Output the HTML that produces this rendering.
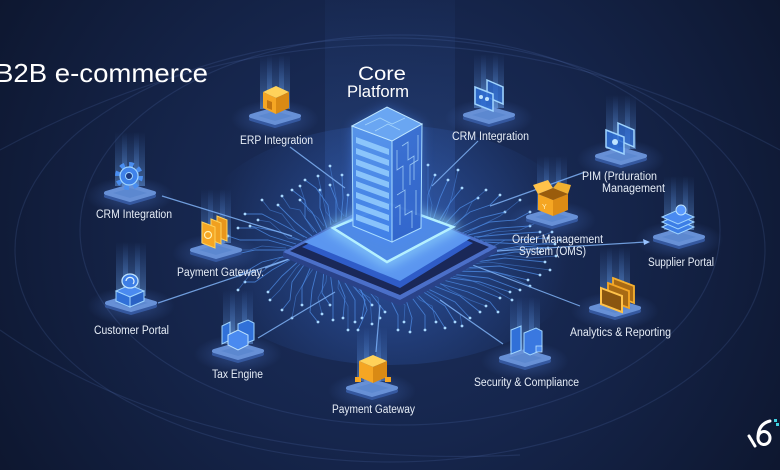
<!DOCTYPE html>
<html><head><meta charset="utf-8">
<style>
html,body{margin:0;padding:0;background:#101b36;overflow:hidden;width:780px;height:470px;}
svg{display:block;overflow:hidden}
text{font-family:"Liberation Sans",sans-serif;}
</style></head>
<body>
<svg width="780" height="470" viewBox="0 0 780 470" xmlns="http://www.w3.org/2000/svg">
<defs>
 <radialGradient id="bg" cx="390" cy="230" r="470" gradientUnits="userSpaceOnUse">
  <stop offset="0" stop-color="#1c305f"/>
  <stop offset="0.45" stop-color="#16264d"/>
  <stop offset="1" stop-color="#0d162e"/>
 </radialGradient>
 <linearGradient id="beam" x1="0" y1="0" x2="0" y2="1">
  <stop offset="0" stop-color="#5a9cff" stop-opacity="0"/>
  <stop offset="1" stop-color="#7ab6ff" stop-opacity="0.42"/>
 </linearGradient>
 <radialGradient id="tglow">
  <stop offset="0" stop-color="#5f95ff" stop-opacity="0.32"/>
  <stop offset="1" stop-color="#5f95ff" stop-opacity="0"/>
 </radialGradient>
 <linearGradient id="col" x1="0" y1="0" x2="0" y2="1">
  <stop offset="0" stop-color="#4a80e0" stop-opacity="0.04"/>
  <stop offset="1" stop-color="#4a80e0" stop-opacity="0.22"/>
 </linearGradient>
 <radialGradient id="chipglow" cx="390" cy="245" r="180" gradientUnits="userSpaceOnUse">
  <stop offset="0" stop-color="#3f7cf0" stop-opacity="0.45"/>
  <stop offset="1" stop-color="#3f7cf0" stop-opacity="0"/>
 </radialGradient>
 <linearGradient id="lf" x1="0" y1="0" x2="0" y2="1">
  <stop offset="0" stop-color="#5b9af0"/>
  <stop offset="1" stop-color="#3f7fe6"/>
 </linearGradient>
 <linearGradient id="rf" x1="0" y1="0" x2="0" y2="1">
  <stop offset="0" stop-color="#3d74d6"/>
  <stop offset="1" stop-color="#2f62c8"/>
 </linearGradient>
 <filter id="blur5" x="-50%" y="-50%" width="200%" height="200%"><feGaussianBlur stdDeviation="6"/></filter>
 <marker id="dot" markerWidth="4" markerHeight="4" refX="2" refY="2" markerUnits="userSpaceOnUse">
  <circle cx="2" cy="2" r="1.4" fill="#a8d8ff"/>
 </marker>
 <g id="tile">
  <ellipse cx="0" cy="2" rx="44" ry="19" fill="url(#tglow)"/>
  <polygon points="-24,2 0,-5 24,2 0,9" fill="#35589f" stroke="#35589f" stroke-width="4" stroke-linejoin="round"/>
  <polygon points="-24,-1 0,-8 24,-1 0,6" fill="#5c88d0" stroke="#6790d6" stroke-width="4" stroke-linejoin="round"/>
 </g>
 <g id="beamg">
  <rect x="-15" y="-62" width="30" height="54" fill="url(#beam)"/>
  <rect x="-8" y="-62" width="5" height="54" fill="url(#beam)"/>
  <rect x="4" y="-62" width="5" height="54" fill="url(#beam)"/>
 </g>
</defs>

<!-- background -->
<rect width="780" height="470" fill="url(#bg)"/>
<g fill="none" stroke="#6f95e0" stroke-opacity="0.14" stroke-width="1.2">
 <ellipse cx="390" cy="250" rx="375" ry="212"/>
 <ellipse cx="400" cy="230" rx="320" ry="195"/>
 <path d="M0,150 Q390,-60 780,150"/>
 <path d="M0,330 Q200,470 520,455"/>
</g>
<rect x="325" y="0" width="130" height="250" fill="url(#col)"/>
<ellipse cx="390" cy="245" rx="200" ry="120" fill="url(#chipglow)"/>

<!-- circuit traces -->
<g fill="none" stroke="#4f8ee8" stroke-width="0.9" stroke-opacity="0.75" marker-end="url(#dot)">
 <polyline points="293,247 268,240 240,240 228,236"/>
 <polyline points="302,241 280,232 250,226"/>
 <polyline points="307,238 285,226 262,214 245,214"/>
 <polyline points="312,236 295,222 278,205"/>
 <polyline points="317,233 305,218 305,200 292,190"/>
 <polyline points="322,231 312,212 300,200"/>
 <polyline points="327,228 320,208 320,190"/>
 <polyline points="331,225 328,205 316,188 305,180"/>
 <polyline points="336,222 336,200 330,185"/>
 <polyline points="341,220 343,198 342,175"/>
 <polyline points="346,217 348,195"/>
 <polyline points="288,250 255,250 232,255"/>
 <polyline points="296,244 270,236 255,228 238,228"/>
 <polyline points="290,255 262,262 240,275"/>
 <polyline points="295,257 272,270 255,282 245,282"/>
 <polyline points="301,259 282,276 268,292"/>
 <polyline points="306,262 292,282 290,300 282,310"/>
 <polyline points="312,264 302,287 302,305"/>
 <polyline points="318,266 312,290 310,312 318,322"/>
 <polyline points="324,269 322,293 330,305"/>
 <polyline points="330,271 333,295 333,320"/>
 <polyline points="336,274 345,297 343,318"/>
 <polyline points="341,276 355,300 355,322"/>
 <polyline points="347,279 365,300 362,318"/>
 <polyline points="353,281 372,305"/>
 <polyline points="359,283 367,310 358,330"/>
 <polyline points="365,286 385,312"/>
 <polyline points="388,295 398,315 398,330"/>
 <polyline points="405,297 412,318 410,332"/>
 <polyline points="410,295 425,315 425,330"/>
 <polyline points="415,292 435,312 445,328"/>
 <polyline points="419,289 445,306 455,322"/>
 <polyline points="424,287 455,302 470,318"/>
 <polyline points="429,284 460,296 480,312"/>
 <polyline points="434,282 468,292 490,302 498,312"/>
 <polyline points="439,279 475,288 500,298"/>
 <polyline points="444,277 480,282 510,292"/>
 <polyline points="449,274 488,278 520,290"/>
 <polyline points="454,271 495,272 528,280"/>
 <polyline points="458,268 500,266 540,275"/>
 <polyline points="468,263 505,258 545,262"/>
 <polyline points="478,258 515,252 540,252"/>
 <polyline points="487,252 520,246 548,248"/>
 <polyline points="427,218 428,195 435,175"/>
 <polyline points="433,220 440,198 448,180"/>
 <polyline points="438,223 450,203 462,188"/>
 <polyline points="444,225 460,208 478,198"/>
 <polyline points="450,228 470,212 490,205 500,195"/>
 <polyline points="456,230 480,218 505,212"/>
 <polyline points="462,233 490,222 515,220 530,212"/>
 <polyline points="468,235 500,228 530,226"/>
 <polyline points="474,237 508,234 540,232"/>
 <polyline points="480,240 515,240 548,238"/>
 <polyline points="485,242 520,244 555,244"/>
</g>
<g fill="none" stroke="#4a86e0" stroke-width="0.8" stroke-opacity="0.55" marker-end="url(#dot)">
 <polyline points="286,248 262,246 250,250 226,250"/>
 <polyline points="299,240 288,238 270,222 258,220"/>
 <polyline points="304,237 296,232 282,214 270,210 262,200"/>
 <polyline points="314,232 300,210 290,208 282,196"/>
 <polyline points="324,226 318,218 308,210 300,186"/>
 <polyline points="334,222 326,212 318,176"/>
 <polyline points="344,216 338,208 330,166"/>
 <polyline points="293,256 280,258 262,272 252,272 238,290"/>
 <polyline points="303,261 296,268 280,290 270,300"/>
 <polyline points="315,266 308,276 296,296 292,318"/>
 <polyline points="327,270 326,282 318,298 322,314"/>
 <polyline points="339,275 338,288 348,306 348,330"/>
 <polyline points="351,280 357,290 370,298 372,324"/>
 <polyline points="362,285 378,298 380,318"/>
 <polyline points="395,297 405,305 404,322"/>
 <polyline points="413,293 420,300 432,306 436,322"/>
 <polyline points="422,288 438,298 460,314 462,326"/>
 <polyline points="437,281 450,290 470,300 486,306"/>
 <polyline points="447,275 470,280 494,290 512,300"/>
 <polyline points="456,270 480,268 508,276 530,286"/>
 <polyline points="465,265 488,262 520,266 550,270"/>
 <polyline points="473,260 498,254 530,258 556,256"/>
 <polyline points="483,255 505,250 532,246 560,240"/>
 <polyline points="490,248 505,240 530,240 552,232"/>
 <polyline points="477,238 495,232 520,230 538,222"/>
 <polyline points="465,234 480,226 500,216 520,200"/>
 <polyline points="453,228 466,214 472,202 486,190"/>
 <polyline points="441,224 447,212 452,196 458,170"/>
 <polyline points="430,219 432,205 428,190 428,165"/>
</g>

<!-- connectors -->
<g stroke="#7fb2f5" stroke-width="1.2" stroke-opacity="0.85" fill="none">
 <line x1="290" y1="147" x2="345" y2="188"/>
 <line x1="162" y1="196" x2="292" y2="236"/>
 <line x1="158" y1="303" x2="292" y2="258"/>
 <line x1="258" y1="338" x2="335" y2="292"/>
 <line x1="376" y1="352" x2="380" y2="305"/>
 <line x1="503" y1="344" x2="440" y2="300"/>
 <line x1="580" y1="306" x2="470" y2="264"/>
 <line x1="480" y1="252" x2="646" y2="242"/>
 <line x1="490" y1="206" x2="585" y2="172"/>
 <line x1="478" y1="141" x2="432" y2="186"/>
 <line x1="265" y1="268" x2="292" y2="258"/>
</g>
<polygon points="650,242 643,239 644,245" fill="#9cc6ff"/>

<!-- chip platform -->
<polygon points="283,252 400,300 497,247 497,252 400,306 283,257" fill="#2a4288"/>
<polygon points="283,252 381,199 497,247 400,300" fill="#4b6fc8"/>
<polygon points="290,251 381,203 489,247 400,295" fill="#1a2858"/>
<polygon points="302,247 383,205 473,243 400,288" fill="#2f5cc8"/>
<polygon points="304,242 384,201 471,238 400,281" fill="#5b96f0"/>
<polygon points="333,228 390,204 453,227 387,262" fill="none" stroke="#9fe6ff" stroke-width="6" filter="url(#blur5)"/>
<polygon points="333,228 390,204 453,227 387,262" fill="#4f8ae6" stroke="#b4f0ff" stroke-width="2.5"/>

<!-- tower -->
<polygon points="352,126 387,107 422,124 421,228 392,242 353,226" fill="#4b8cff" opacity="0.45" filter="url(#blur5)"/>
<polygon points="352,126 392,141 392,242 353,226" fill="url(#lf)" fill-opacity="0.9" stroke="#a8dcff" stroke-width="1"/>
<polygon points="392,141 422,124 421,228 392,242" fill="url(#rf)" fill-opacity="0.9" stroke="#a8dcff" stroke-width="1"/>
<polygon points="352,126 387,107 422,124 392,141" fill="#6aa6f2" stroke="#bfe6ff" stroke-width="1"/>
<g fill="#9ad2ff" fill-opacity="0.8">
 <polygon points="356,137 389,149 389,155 356,143"/>
 <polygon points="356,148 389,160 389,166 356,154"/>
 <polygon points="356,159 389,171 389,177 356,165"/>
 <polygon points="356,170 389,182 389,188 356,176"/>
 <polygon points="356,181 389,193 389,199 356,187"/>
 <polygon points="356,192 389,204 389,210 356,198"/>
 <polygon points="356,203 389,215 389,221 356,209"/>
 <polygon points="356,214 389,226 389,232 356,220"/>
</g>
<g fill="none" stroke="#b8e4ff" stroke-width="0.8" stroke-opacity="0.75">
 <polyline points="397,150 397,170 403,166 403,190"/>
 <polyline points="402,146 408,142 408,160 414,156 414,180"/>
 <polyline points="397,195 405,190 405,215 412,211 412,228"/>
 <polyline points="418,135 418,160 410,165 410,185"/>
 <polyline points="400,225 400,205 395,208"/>
 <polyline points="416,190 416,215"/>
 <polyline points="365,125 380,118 392,124 405,118"/>
 <polyline points="375,131 388,124 400,130"/>
</g>

<!-- beams -->
<use href="#beamg" x="275" y="117"/>
<use href="#beamg" x="130" y="194"/>
<use href="#beamg" x="489" y="116"/>
<use href="#beamg" x="621" y="157"/>
<use href="#beamg" x="552" y="218"/>
<use href="#beamg" x="679" y="238"/>
<use href="#beamg" x="216" y="251"/>
<use href="#beamg" x="131" y="304"/>
<use href="#beamg" x="238" y="352"/>
<use href="#beamg" x="372" y="389"/>
<use href="#beamg" x="525" y="359"/>
<use href="#beamg" x="615" y="309"/>

<!-- tiles -->
<use href="#tile" x="275" y="117"/>
<use href="#tile" x="130" y="194"/>
<use href="#tile" x="489" y="116"/>
<use href="#tile" x="621" y="157"/>
<use href="#tile" x="552" y="218"/>
<use href="#tile" x="679" y="238"/>
<use href="#tile" x="216" y="251"/>
<use href="#tile" x="131" y="304"/>
<use href="#tile" x="238" y="352"/>
<use href="#tile" x="372" y="389"/>
<use href="#tile" x="525" y="359"/>
<use href="#tile" x="615" y="309"/>

<!-- icons -->
<polygon points="263,92 276,86 289,92 276,98" fill="#ffd25a"/>
<polygon points="263,92 276,98 276,114 263,108" fill="#f5a623"/>
<polygon points="276,98 289,92 289,108 276,114" fill="#d98a14"/>
<polygon points="267,100 272,102 272,110 267,108" fill="#c27510"/>

<circle cx="129" cy="176" r="11" fill="none" stroke="#4a8ef0" stroke-width="6" stroke-dasharray="4.3 4.3"/>
<circle cx="129" cy="176" r="9" fill="#3f82ea" stroke="#9fd4ff" stroke-width="1.2"/>
<circle cx="129" cy="176" r="3.5" fill="#1c3a80" stroke="#9fd4ff" stroke-width="1"/>

<polygon points="487,80 503,87 503,104 487,97" fill="#2c6ad0" fill-opacity="0.7" stroke="#9fd4ff" stroke-width="1.5"/>
<polygon points="475,87 493,94 493,111 475,104" fill="#2c6ad0" fill-opacity="0.85" stroke="#9fd4ff" stroke-width="1.5"/>
<circle cx="481" cy="97" r="2" fill="#bfe4ff"/><circle cx="487" cy="99" r="2" fill="#bfe4ff"/>

<polygon points="618,123 634,130 634,147 618,140" fill="#2c6ad0" fill-opacity="0.7" stroke="#9fd4ff" stroke-width="1.5"/>
<polygon points="606,130 624,137 624,154 606,147" fill="#2c6ad0" fill-opacity="0.85" stroke="#9fd4ff" stroke-width="1.5"/>
<circle cx="615" cy="142" r="3" fill="#bfe4ff"/>

<polygon points="538,194 553,188 568,194 553,200" fill="#9a5c0c"/>
<polygon points="538,194 553,200 553,216 538,210" fill="#f5a623"/>
<polygon points="553,200 568,194 568,210 553,216" fill="#dd8c15"/>
<polygon points="538,194 533,185 548,180 553,188" fill="#ffc24a"/>
<polygon points="568,194 571,185 558,182 553,188" fill="#f0b030"/>
<text x="542" y="209" font-size="7" fill="#fff3c0">Y</text>

<polygon points="662,227 678,220 694,227 678,234" fill="#3d7ee6" stroke="#9fd4ff" stroke-width="1"/>
<polygon points="662,222 678,215 694,222 678,229" fill="#3d7ee6" stroke="#9fd4ff" stroke-width="1"/>
<polygon points="662,217 678,210 694,217 678,224" fill="#4a8af0" stroke="#9fd4ff" stroke-width="1"/>
<circle cx="681" cy="210" r="5" fill="#5a9aff" stroke="#bfe4ff" stroke-width="1"/>

<polygon points="217,216 227,220 227,241 217,237" fill="#e8961c" stroke="#ffd25a" stroke-width="1"/>
<polygon points="211,219 221,223 221,244 211,240" fill="#f0a020" stroke="#ffd25a" stroke-width="1"/>
<polygon points="202,222 215,227 215,248 202,243" fill="#f5a623" stroke="#ffd25a" stroke-width="1"/>
<circle cx="208" cy="235" r="3.5" fill="none" stroke="#fff0b0" stroke-width="1.2"/>

<polygon points="116,291 130,285 144,291 130,297" fill="#4a8af0" stroke="#9fd4ff" stroke-width="1"/>
<polygon points="116,291 130,297 130,307 116,301" fill="#3070d8" stroke="#9fd4ff" stroke-width="1"/>
<polygon points="130,297 144,291 144,301 130,307" fill="#2a62c4" stroke="#9fd4ff" stroke-width="1"/>
<ellipse cx="130" cy="281" rx="8" ry="7" fill="#3d7ee6" stroke="#bfe4ff" stroke-width="1.3"/>
<path d="M126,281 A4,4 0 1 1 133,284" fill="none" stroke="#dff2ff" stroke-width="1.2"/>

<polygon points="222,326 230,322 230,340 222,344" fill="#3070d8" stroke="#9fd4ff" stroke-width="1"/>
<polygon points="238,324 248,320 254,323 254,340 244,344 238,341" fill="#3070d8" stroke="#9fd4ff" stroke-width="1"/>
<polygon points="228,335 238,330 248,335 248,345 238,350 228,345" fill="#4a8af0" stroke="#bfe4ff" stroke-width="1"/>

<polygon points="359,361 373,355 387,361 373,367" fill="#ffd25a"/>
<polygon points="359,361 373,367 373,383 359,377" fill="#f5a623"/>
<polygon points="373,367 387,361 387,377 373,383" fill="#d98a14"/>
<rect x="355" y="377" width="6" height="5" fill="#f5a623"/>
<rect x="385" y="377" width="6" height="5" fill="#f5a623"/>

<polygon points="511,330 521,326 521,350 511,354" fill="#3070d8" stroke="#9fd4ff" stroke-width="1"/>
<polygon points="524,333 536,328 542,331 542,350 530,355 524,352" fill="#3a78e0" stroke="#9fd4ff" stroke-width="1"/>
<rect x="536" y="346" width="6" height="6" fill="#4a8af0" stroke="#bfe4ff" stroke-width="0.8"/>

<polygon points="613,278 634,286 634,303 613,295" fill="#a86a14" stroke="#f5b030" stroke-width="1.8"/>
<polygon points="608,283 629,291 629,308 608,300" fill="#a86a14" stroke="#f5a623" stroke-width="1.8"/>
<polygon points="601,288 622,296 622,312 601,304" fill="#8a5510" stroke="#ffc24a" stroke-width="2"/>

<!-- labels -->
<g fill="#e6edf7" font-size="11.5">
 <text x="240" y="144" textLength="73" lengthAdjust="spacingAndGlyphs">ERP Integration</text>
 <text x="96" y="218" textLength="76" lengthAdjust="spacingAndGlyphs">CRM Integration</text>
 <text x="452" y="140" textLength="77" lengthAdjust="spacingAndGlyphs">CRM Integration</text>
 <text x="582" y="180" textLength="75" lengthAdjust="spacingAndGlyphs">PIM (Prduration</text>
 <text x="602" y="192" textLength="63" lengthAdjust="spacingAndGlyphs">Management</text>
 <text x="512" y="243" textLength="91" lengthAdjust="spacingAndGlyphs">Order Management</text>
 <text x="519" y="255" textLength="67" lengthAdjust="spacingAndGlyphs">System (OMS)</text>
 <text x="648" y="266" textLength="66" lengthAdjust="spacingAndGlyphs">Supplier Portal</text>
 <text x="177" y="276" textLength="87" lengthAdjust="spacingAndGlyphs">Payment Gateway.</text>
 <text x="94" y="334" textLength="75" lengthAdjust="spacingAndGlyphs">Customer Portal</text>
 <text x="212" y="378" textLength="51" lengthAdjust="spacingAndGlyphs">Tax Engine</text>
 <text x="332" y="413" textLength="83" lengthAdjust="spacingAndGlyphs">Payment Gateway</text>
 <text x="474" y="386" textLength="105" lengthAdjust="spacingAndGlyphs">Security &amp; Compliance</text>
 <text x="570" y="336" textLength="101" lengthAdjust="spacingAndGlyphs">Analytics &amp; Reporting</text>
</g>

<!-- titles -->
<text x="-5" y="82" font-size="26" fill="#ffffff" textLength="213" lengthAdjust="spacingAndGlyphs">B2B e-commerce</text>
<text x="358" y="80" font-size="19" fill="#ffffff" textLength="48" lengthAdjust="spacingAndGlyphs">Core</text>
<text x="347" y="97" font-size="17" fill="#ffffff" textLength="62" lengthAdjust="spacingAndGlyphs">Platform</text>

<!-- logo -->
<g fill="none" stroke="#ffffff" stroke-width="3" stroke-linecap="round">
 <path d="M749,436 L755,446"/>
 <ellipse cx="764" cy="438" rx="6" ry="6.5"/>
 <path d="M758,438 Q758,424 770,421"/>
</g>
<rect x="774" y="419" width="3" height="3" fill="#3fd0e0"/>
<rect x="776" y="423" width="3" height="3" fill="#3fd0e0"/>
</svg>
</body></html>
